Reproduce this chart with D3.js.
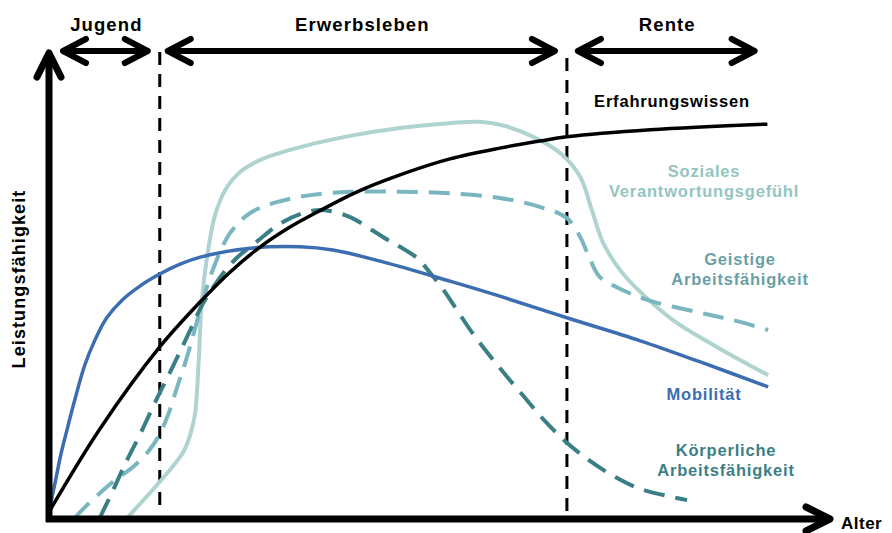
<!DOCTYPE html>
<html>
<head>
<meta charset="utf-8">
<script src="https://cdn.jsdelivr.net/npm/d3@7"></script>
<style>
  html, body { margin: 0; padding: 0; background: #fff; }
  svg { display: block; }
  text { font-family: "Liberation Sans", Arial, Helvetica, sans-serif; font-weight: bold; }
</style>
</head>
<body>
<svg id="chart" width="892" height="533"></svg>
<script>
// ---------- data (age on x, performance on y; conceptual 0..100 units) ----------
const erfahrungswissen = [[0,1.3],[6.5,18.9],[14.2,36.4],[19.4,46.0],[23.2,52.3],[27.1,57.7],[30.9,61.9],[34.4,65.1],[39.5,69.4],[45.0,73.0],[51.4,76.4],[57.8,78.7],[62.9,80.2],[66.4,81.1],[77.1,82.6],[92.1,83.8]];
const mobilitaet = [[0,1.3],[0.4,4.5],[0.9,8.5],[1.5,13.4],[2.3,18.7],[3.3,25.1],[4.6,32.6],[5.9,37.9],[7.4,42.6],[9.4,46.4],[11.7,49.4],[14.2,51.9],[16.8,54.0],[19.4,55.5],[25.8,57.4],[32.2,57.7],[36.4,57.0],[42.8,54.5],[51.4,50.4],[57.8,47.2],[66.4,42.6],[75.8,37.7],[83.5,33.2],[92.2,27.9]];
const soziales = [[10.0,0],[14.2,7.7],[17.2,14.0],[18.1,17.7],[18.7,21.9],[19.2,33.6],[19.6,46.4],[20.4,57.0],[21.3,64.5],[22.6,69.8],[24.5,73.6],[27.1,76.2],[32.2,78.9],[38.6,81.3],[45.0,83.0],[51.4,84.0],[55.3,84.3],[58.5,83.4],[62.1,81.1],[65.5,77.7],[68.1,72.6],[69.6,65.5],[71.0,58.7],[73.2,52.8],[75.8,48.1],[80.0,42.1],[85.6,36.4],[92.2,30.4]];
const geistige = [[3.3,0],[4.9,2.8],[8.2,7.7],[10.8,10.9],[12.9,14.5],[14.2,17.9],[15.3,22.1],[16.4,27.7],[17.7,34.3],[19.4,44.3],[21.0,52.8],[23.2,60.6],[25.8,64.9],[29.2,67.2],[33.5,68.7],[38.6,69.4],[45.0,69.4],[51.4,69.1],[57.8,68.1],[62.9,66.2],[66.4,63.8],[68.1,59.8],[69.4,54.9],[70.6,51.3],[72.8,49.1],[76.7,46.4],[83.1,43.8],[87.7,42.1],[92.2,40.0]];
const koerperliche = [[6.5,0],[8.1,5.5],[9.7,11.3],[11.7,17.9],[13.8,25.3],[15.9,32.3],[17.8,38.9],[19.7,45.5],[21.5,50.2],[23.8,54.9],[26.7,58.9],[30.0,63.0],[33.5,65.3],[35.4,65.5],[38.6,64.0],[42.8,59.8],[45.0,57.7],[47.2,55.3],[48.8,52.3],[50.5,48.7],[52.4,44.0],[54.4,39.1],[57.8,31.9],[60.8,26.0],[63.6,20.6],[66.4,16.0],[69.4,12.1],[72.6,8.7],[75.8,6.2],[81.8,3.8]];

const periodNames = ["Jugend", "Erwerbsleben", "Rente"];
const periodBounds = [0, 14.2, 66.4, 92.0];   // phase borders on the age axis
const dividers = [14.2, 66.4];

const axisLabelX = "Alter";
const axisLabelY = "Leistungsfähigkeit";

// ---------- scales ----------
const x = d3.scaleLinear().domain([0, 100]).range([49, 829]);
const y = d3.scaleLinear().domain([0, 100]).range([518, 48]);

const svg = d3.select("#chart");

const line = d3.line().x(d => x(d[0])).y(d => y(d[1])).curve(d3.curveCatmullRom.alpha(0.5));

// ---------- dividers ----------
const divTop = [52, 58], divBot = [507, 512];
svg.selectAll("line.div").data(dividers).join("line")
  .attr("class", "div")
  .attr("x1", d => x(d)).attr("x2", d => x(d))
  .attr("y1", (d, i) => divTop[i]).attr("y2", (d, i) => divBot[i])
  .attr("stroke", "#000").attr("stroke-width", 3)
  .attr("stroke-dasharray", "13,9");

// ---------- curves ----------
const series = [
  { name: "soziales", data: soziales, color: "#afd4d0", width: 4, dash: null },
  { name: "geistige", data: geistige, color: "#79b6bf", width: 4, dash: "21,11" },
  { name: "koerperliche", data: koerperliche, color: "#3b7f86", width: 4, dash: "21,11" },
  { name: "mobilitaet", data: mobilitaet, color: "#3c6db1", width: 3.5, dash: null },
  { name: "erfahrung", data: erfahrungswissen, color: "#000000", width: 3.5, dash: null }
];
svg.selectAll("path.curve").data(series).join("path")
  .attr("class", "curve")
  .attr("d", d => line(d.data))
  .attr("fill", "none")
  .attr("stroke", d => d.color)
  .attr("stroke-width", d => d.width)
  .attr("stroke-linecap", "butt")
  .attr("stroke-dasharray", d => d.dash);

// ---------- axes with arrow heads ----------
const axisG = svg.append("g").attr("stroke", "#000").attr("fill", "none")
  .attr("stroke-linecap", "round").attr("stroke-linejoin", "round");
axisG.append("line").attr("x1", x(0)).attr("x2", x(0)).attr("y1", 522).attr("y2", 54).attr("stroke-width", 7).attr("stroke-linecap", "butt");
axisG.append("path").attr("d", `M${x(0)-12},77 L${x(0)},53 L${x(0)+12},77`).attr("stroke-width", 7);
axisG.append("line").attr("x1", 46).attr("x2", 828).attr("y1", 519).attr("y2", 519).attr("stroke-width", 7).attr("stroke-linecap", "butt");
axisG.append("path").attr("d", `M806,507 L830,519 L806,531`).attr("stroke-width", 7);

svg.append("text").attr("x", 841).attr("y", 529).attr("font-size", 17).attr("letter-spacing", 0.5).attr("fill", "#000").text(axisLabelX);
svg.append("text").attr("transform", "translate(25,279) rotate(-90)").attr("text-anchor", "middle")
  .attr("font-size", 18).attr("letter-spacing", 1.1).attr("fill", "#000").text(axisLabelY);

// ---------- phase arrows ----------
const padL = [14, 8, 11], padR = [12, 12, 12];
const arrowY = 51;
const phases = periodNames.map((n, i) => ({
  name: n,
  x1: x(periodBounds[i]) + padL[i],
  x2: x(periodBounds[i + 1]) - padR[i]
}));
const pg = svg.append("g").attr("stroke", "#000").attr("fill", "none")
  .attr("stroke-width", 6).attr("stroke-linecap", "round").attr("stroke-linejoin", "round");
phases.forEach(p => {
  pg.append("line").attr("x1", p.x1 + 2).attr("x2", p.x2 - 2).attr("y1", arrowY).attr("y2", arrowY);
  pg.append("path").attr("d", `M${p.x1 + 23},${arrowY - 12} L${p.x1},${arrowY} L${p.x1 + 23},${arrowY + 12}`);
  pg.append("path").attr("d", `M${p.x2 - 23},${arrowY - 12} L${p.x2},${arrowY} L${p.x2 - 23},${arrowY + 12}`);
});
svg.selectAll("text.phase").data(phases).join("text")
  .attr("class", "phase")
  .attr("x", d => (d.x1 + d.x2) / 2 + 1).attr("y", 31)
  .attr("text-anchor", "middle").attr("font-size", 18.5).attr("letter-spacing", 1.1)
  .attr("fill", "#000").text(d => d.name);

// ---------- curve labels ----------
const labels = [
  { lines: ["Erfahrungswissen"], cx: 672, y: 107, color: "#000000" },
  { lines: ["Soziales", "Verantwortungsgefühl"], cx: 704, y: 177, color: "#93c5c1" },
  { lines: ["Geistige", "Arbeitsfähigkeit"], cx: 740, y: 265, color: "#6a9fa6" },
  { lines: ["Mobilität"], cx: 704, y: 400, color: "#3c6db1" },
  { lines: ["Körperliche", "Arbeitsfähigkeit"], cx: 726, y: 456, color: "#3b7f86" }
];
labels.forEach(l => {
  const t = svg.append("text").attr("text-anchor", "middle").attr("font-size", 16.5)
    .attr("letter-spacing", 0.8).attr("fill", l.color);
  l.lines.forEach((s, i) => {
    t.append("tspan").attr("x", l.cx).attr("y", l.y + i * 20).text(s);
  });
});
</script>
</body>
</html>
